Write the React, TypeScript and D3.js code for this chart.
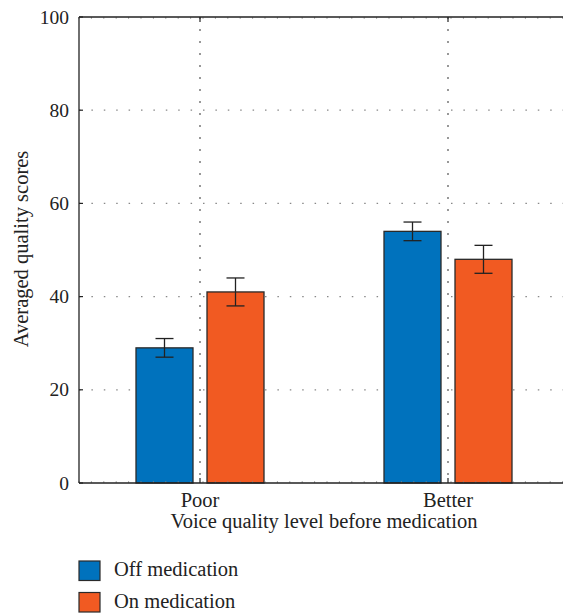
import React from "react";
import * as d3 from "d3";

const categories = ["Poor", "Better"];
const seriesNames = ["Off medication", "On medication"];
const offValues = [29, 54];
const onValues = [41, 48];
const offErrors = [2, 2];
const onErrors = [3, 3];
const yTicks = [0, 20, 40, 60, 80, 100];
const colors = ["#0072bd", "#f15a22"];

const FONT = { fontFamily: '"Liberation Serif"' };

export default function App() {
  const W = 563, H = 616;
  const left = 79, top = 17, bottom = 483;
  const step = 248;
  const right = left + 2 * step;
  const fs = 20.5;

  const cx = (i: number) => left + 121 + i * step;
  const y = d3.scaleLinear().domain([0, 100]).range([bottom, top]);
  const barW = 57;
  const gap = 7;
  const series = [offValues, onValues];
  const errs = [offErrors, onErrors];

  const minor = d3.range(left, W + 12, 12.4);

  return (
    <svg width={W} height={H} style={{ position: "absolute", left: 0, top: 0 }}>
      <rect width={W} height={H} fill="white" />
      {yTicks.filter(t => t > 0 && t < 100).map(t => (
        <line key={"g" + t} x1={left} x2={right} y1={y(t)} y2={y(t)} stroke="#888" strokeWidth={1.2} strokeDasharray="1.5,10.9" />
      ))}
      {categories.map((c, i) => (
        <line key={"v" + c} x1={cx(i)} x2={cx(i)} y1={top} y2={bottom} stroke="#555" strokeWidth={1.2} strokeDasharray="2,10" />
      ))}
      {categories.map((c, i) =>
        series.map((s, k) => {
          const bx = k === 0 ? cx(i) - gap - barW : cx(i) + gap;
          const mid = bx + barW / 2;
          const v = s[i];
          const e = errs[k][i];
          return (
            <g key={c + k}>
              <rect x={bx} y={y(v)} width={barW} height={bottom - y(v)} fill={colors[k]} stroke="#2a2a2a" strokeWidth={1.3} />
              <line x1={mid} x2={mid} y1={y(v + e)} y2={y(v - e)} stroke="#222" strokeWidth={1.3} />
              <line x1={mid - 9} x2={mid + 9} y1={y(v + e)} y2={y(v + e)} stroke="#222" strokeWidth={1.3} />
              <line x1={mid - 9} x2={mid + 9} y1={y(v - e)} y2={y(v - e)} stroke="#222" strokeWidth={1.3} />
            </g>
          );
        })
      )}
      {minor.map((m, i) => (
        <g key={"m" + i}>
          <line x1={m} x2={m} y1={top} y2={top + 2} stroke="#888" strokeWidth={0.7} />
          <line x1={m} x2={m} y1={bottom} y2={bottom - 2} stroke="#888" strokeWidth={0.7} />
        </g>
      ))}
      {categories.map((c, i) => (
        <g key={"t" + c}>
          <line x1={cx(i)} x2={cx(i)} y1={top} y2={top + 5} stroke="#222" strokeWidth={1.2} />
          <line x1={cx(i)} x2={cx(i)} y1={bottom} y2={bottom - 5} stroke="#222" strokeWidth={1.2} />
          <text x={cx(i)} y={507} textAnchor="middle" fontSize={fs} fill="#222" style={FONT}>{c}</text>
        </g>
      ))}
      <line x1={left} x2={right} y1={top} y2={top} stroke="#222" strokeWidth={1.3} />
      <line x1={left} x2={right} y1={bottom} y2={bottom} stroke="#222" strokeWidth={1.3} />
      <line x1={left} x2={left} y1={top} y2={bottom} stroke="#222" strokeWidth={1.3} />
      {yTicks.map(t => (
        <g key={"y" + t}>
          <line x1={left} x2={left + 4} y1={y(t)} y2={y(t)} stroke="#222" strokeWidth={1.2} />
          <text x={left - 10} y={y(t) + 6.5} textAnchor="end" fontSize={19.5} fill="#222" style={FONT}>{t}</text>
        </g>
      ))}
      <text transform={`translate(28,249) rotate(-90)`} textAnchor="middle" fontSize={fs} fill="#222" style={FONT}>Averaged quality scores</text>
      <text x={324} y={528} textAnchor="middle" fontSize={fs} fill="#222" style={FONT}>Voice quality level before medication</text>
      {seriesNames.map((n, k) => (
        <g key={"l" + n}>
          <rect x={79} y={561 + k * 31.5} width={21} height={19.5} fill={colors[k]} stroke="#2a2a2a" strokeWidth={1.2} />
          <text x={114} y={576 + k * 31.5} fontSize={fs} fill="#222" style={FONT}>{n}</text>
        </g>
      ))}
    </svg>
  );
}
